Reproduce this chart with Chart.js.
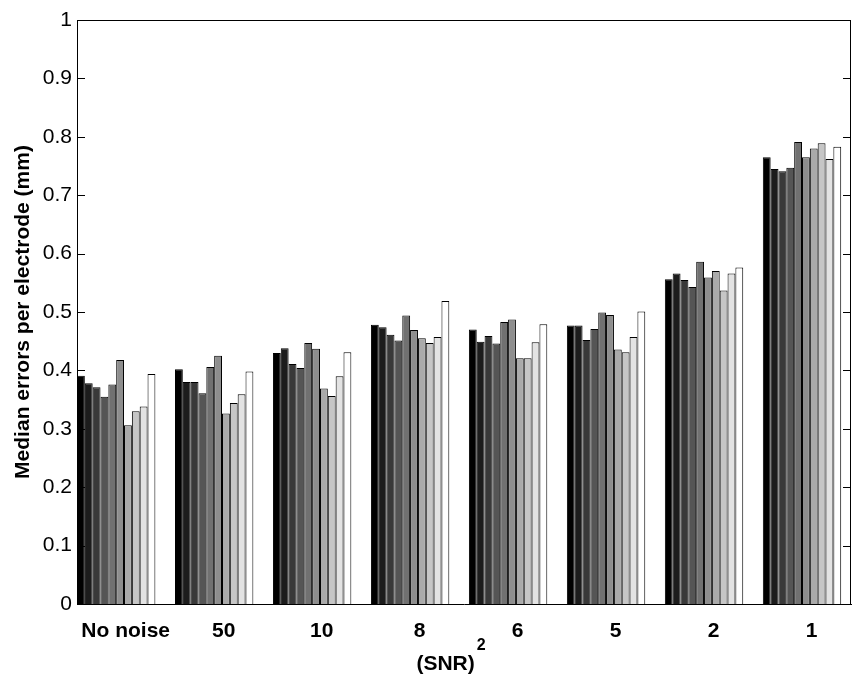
<!DOCTYPE html>
<html>
<head>
<meta charset="utf-8">
<script src="https://cdn.jsdelivr.net/npm/chart.js@4.4.1/dist/chart.umd.min.js"></script>
<style>
  html, body { margin: 0; padding: 0; background: #fff; }
  #wrap { width: 852px; height: 680px; position: relative; }
</style>
</head>
<body>
<div id="wrap"><canvas id="chart"></canvas></div>
<script>
const categories = ['No noise', '50', '10', '8', '6', '5', '2', '1'];
const positions = [1, 2, 3, 4, 5, 6, 7, 8];
const yTicks = [0, 0.1, 0.2, 0.3, 0.4, 0.5, 0.6, 0.7, 0.8, 0.9, 1];

// one array per bar shade (black -> white), one value per noise level
const s1 = [0.391, 0.402, 0.430, 0.478, 0.470, 0.477, 0.556, 0.765];
const s2 = [0.378, 0.380, 0.438, 0.474, 0.449, 0.477, 0.566, 0.745];
const s3 = [0.371, 0.380, 0.411, 0.461, 0.459, 0.452, 0.555, 0.741];
const s4 = [0.355, 0.361, 0.404, 0.451, 0.446, 0.471, 0.543, 0.747];
const s5 = [0.376, 0.406, 0.447, 0.494, 0.483, 0.499, 0.586, 0.791];
const s6 = [0.418, 0.425, 0.437, 0.469, 0.487, 0.495, 0.559, 0.765];
const s7 = [0.306, 0.326, 0.369, 0.455, 0.421, 0.436, 0.570, 0.780];
const s8 = [0.330, 0.344, 0.356, 0.447, 0.421, 0.431, 0.537, 0.789];
const s9 = [0.338, 0.359, 0.390, 0.457, 0.448, 0.457, 0.566, 0.762];
const s10 = [0.394, 0.398, 0.431, 0.519, 0.479, 0.501, 0.576, 0.783];

const series = [s1, s2, s3, s4, s5, s6, s7, s8, s9, s10];
const shades = ['#000000', '#1c1c1c', '#393939', '#555555', '#717171',
                '#8e8e8e', '#aaaaaa', '#c6c6c6', '#e3e3e3', '#ffffff'];

const FONT = "'Liberation Sans', Arial, sans-serif";

const datasets = series.map((vals, i) => ({
  label: 'series ' + (i + 1),
  data: vals.map((v, j) => ({ x: positions[j], y: v })),
  backgroundColor: shades[i],
  borderColor: '#000',
  borderWidth: 1,
  categoryPercentage: 0.8,
  barPercentage: 1.0,
}));

// matlab-style box: inward ticks on both sides, top and right edges, x label
const boxPlugin = {
  id: 'box',
  afterDraw(chart) {
    const { ctx, chartArea: a, scales: { y } } = chart;
    ctx.save();
    ctx.strokeStyle = '#000';
    ctx.lineWidth = 1;
    ctx.beginPath();
    ctx.moveTo(a.left, a.top + 0.5);
    ctx.lineTo(a.right, a.top + 0.5);
    ctx.moveTo(a.right - 0.5, a.top);
    ctx.lineTo(a.right - 0.5, a.bottom);
    y.ticks.forEach(t => {
      const py = Math.round(y.getPixelForValue(t.value)) + 0.5;
      ctx.moveTo(a.left, py);
      ctx.lineTo(a.left + 8, py);
      ctx.moveTo(a.right, py);
      ctx.lineTo(a.right - 8, py);
    });
    ctx.stroke();

    ctx.fillStyle = '#000';
    ctx.textBaseline = 'alphabetic';
    ctx.textAlign = 'left';
    ctx.font = 'bold 21px ' + FONT;
    const main = '(SNR)';
    const w1 = ctx.measureText(main).width;
    ctx.font = 'bold 16px ' + FONT;
    const w2 = ctx.measureText('2').width;
    const cx = (a.left + a.right) / 2 - 13;
    const x0 = cx - (w1 + w2 + 2) / 2;
    ctx.font = 'bold 21px ' + FONT;
    ctx.fillText(main, x0, 670);
    ctx.font = 'bold 16px ' + FONT;
    ctx.fillText('2', x0 + w1 + 2, 650);
    ctx.restore();
  }
};

new Chart(document.getElementById('chart'), {
  type: 'bar',
  data: { datasets },
  plugins: [boxPlugin],
  options: {
    responsive: true,
    maintainAspectRatio: false,
    animation: false,
    layout: { padding: { top: 20, right: 1, left: 0, bottom: 0 } },
    plugins: {
      legend: { display: false },
      tooltip: { enabled: false },
    },
    scales: {
      x: {
        type: 'linear',
        min: 0.6,
        max: 8.5,
        offset: false,
        grid: { display: false, offset: false, drawTicks: false },
        border: { display: true, color: '#000', width: 1 },
        afterBuildTicks: (scale) => { scale.ticks = positions.map(v => ({ value: v })); },
        afterFit: (scale) => { scale.height = 76; },
        ticks: {
          autoSkip: false,
          maxRotation: 0,
          minRotation: 0,
          padding: 15,
          labelOffset: 9.5,
          color: '#000',
          font: { family: FONT, size: 21, weight: 'bold' },
          callback: (v) => categories[positions.indexOf(v)],
        },
      },
      y: {
        min: 0,
        max: 1,
        grid: { display: false, drawTicks: false },
        border: { display: true, color: '#000', width: 1 },
        afterBuildTicks: (scale) => { scale.ticks = yTicks.map(v => ({ value: v })); },
        afterFit: (scale) => { scale.width = 77; },
        ticks: {
          padding: 5,
          color: '#000',
          font: { family: FONT, size: 21 },
          callback: (v) => String(v),
        },
        title: {
          display: true,
          text: 'Median errors per electrode (mm)',
          color: '#000',
          font: { family: FONT, size: 21, weight: 'bold' },
          padding: { top: 11, bottom: 0 },
        },
      },
    },
  },
});
</script>
</body>
</html>
